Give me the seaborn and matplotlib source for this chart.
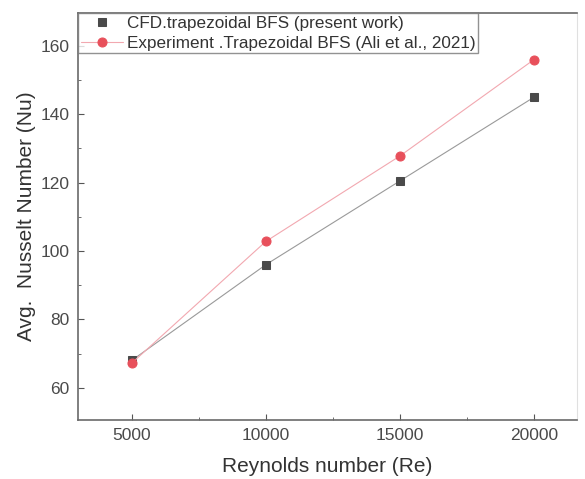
import matplotlib
matplotlib.use("Agg")
import matplotlib.pyplot as plt
import seaborn as sns
import pandas as pd
from matplotlib.ticker import MultipleLocator

reynolds = [5000, 10000, 15000, 20000]
nu_cfd = [68.0, 96.0, 120.5, 145.0]
nu_exp = [67.2, 102.8, 127.8, 156.0]
label_cfd = "CFD.trapezoidal BFS (present work)"
label_exp = "Experiment .Trapezoidal BFS (Ali et al., 2021)"

df = pd.DataFrame({
    "Re": reynolds * 2,
    "Nu": nu_cfd + nu_exp,
    "series": [label_cfd] * 4 + [label_exp] * 4,
})

sns.set_theme(style="ticks")
plt.rcParams["font.family"] = ["Liberation Sans", "DejaVu Sans"]

fig = plt.figure(figsize=(5.85, 4.79), dpi=100)
ax = fig.add_axes([78 / 585, 1 - 420 / 479, (577 - 78) / 585, (420 - 13) / 479])

sns.lineplot(data=df[df.series == label_cfd], x="Re", y="Nu", ax=ax,
             color="#9a9a9a", lw=0.8, marker="s", markersize=5.5,
             markerfacecolor="#4a4a4a", markeredgecolor="#4a4a4a",
             label=label_cfd)
sns.lineplot(data=df[df.series == label_exp], x="Re", y="Nu", ax=ax,
             color="#f2a8b0", lw=0.8, marker="o", markersize=6.5,
             markerfacecolor="#e8505b", markeredgecolor="#e8505b",
             label=label_exp)

ax.set_xlim(3000, 21600)
ax.set_ylim(50.6, 169.6)
ax.xaxis.set_major_locator(MultipleLocator(5000))
ax.xaxis.set_minor_locator(MultipleLocator(2500))
ax.yaxis.set_major_locator(MultipleLocator(20))
ax.yaxis.set_minor_locator(MultipleLocator(10))
ax.tick_params(which="both", direction="in", colors="#555555", labelcolor="#4a4a4a",
               labelsize=12.5)
ax.tick_params(which="major", length=4, width=0.8, pad=6)
ax.tick_params(which="minor", length=2, width=0.6)
ax.set_yticks([60, 80, 100, 120, 140, 160])

for side, sp in ax.spines.items():
    sp.set_color("#6a6a6a")
    sp.set_linewidth(1.2)
ax.spines["right"].set_color("#e0e0e0")
ax.spines["right"].set_linewidth(0.8)

ax.set_xlabel("Reynolds number (Re)", fontsize=15, color="#333333", labelpad=10)
ax.set_ylabel("Avg.  Nusselt Number (Nu)", fontsize=15, color="#333333", labelpad=3)

leg = ax.legend(loc="upper left", bbox_to_anchor=(0.0, 1.0), fontsize=12.3,
                frameon=True, fancybox=False, borderaxespad=0.0,
                handlelength=2.5, handletextpad=0.2, borderpad=0.15,
                labelspacing=0.3)
leg.get_frame().set_edgecolor("#777777")
leg.get_frame().set_linewidth(1.0)
leg.legend_handles[0].set_linestyle("None")
for t in leg.get_texts():
    t.set_color("#333333")

fig.savefig("out.png", dpi=100)
